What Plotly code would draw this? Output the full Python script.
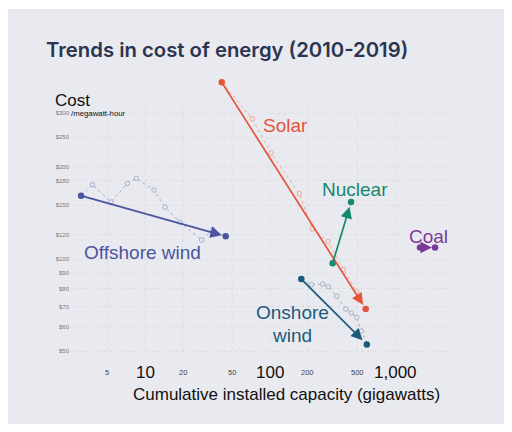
import numpy as np
import plotly.graph_objects as go

# ---------------- data ----------------
solar_gw = [41.1, 72.2, 101.9, 171.6, 218, 291, 386, 494, 583]
solar_cost = [378, 287, 222, 163.5, 125.3, 114, 92.5, 78.2, 68.6]

offshore_gw = [3.08, 3.79, 5.35, 7.22, 8.52, 11.8, 14.45, 19.05, 28.4, 34.8, 44.2]
offshore_cost = [161, 175, 153.6, 176.7, 183.5, 168, 147.9, 132, 115.3, 125, 118.6]

onshore_gw = [178, 215, 263, 293, 342, 404, 447, 494, 537, 595]
onshore_cost = [86, 82.5, 82.8, 81.2, 75.6, 68.6, 66.6, 64.4, 58.2, 52.6]

nuclear_gw = [317, 445]
nuclear_cost = [96.8, 153.5]

coal_gw = [1585, 2089]
coal_cost = [109, 109]

y_tick_vals = [50, 60, 70, 80, 90, 100, 120, 150, 180, 200, 250, 300]
y_tick_text = ["$50", "$60", "$70", "$80", "$90", "$100", "$120", "$150",
               "$180", "$200", "$250", "$300"]
x_tick_vals = [5, 10, 20, 50, 100, 200, 500, 1000]
x_tick_text = ["5", "10", "20", "50", "100", "200", "500", "1,000"]
x_tick_big = [False, True, False, False, True, False, False, True]

# ---------------- layout geometry (screen pixels) ----------------
PAGE = 8                      # body margin of the html page
W, H = 512 - 2 * PAGE, 432 - 2 * PAGE
X0, X1, Y0, Y1 = 73, 449, 75, 356   # plot area on screen
L, T = X0 - PAGE, Y0 - PAGE
R, B = W - (X1 - PAGE), H - (Y1 - PAGE)
PW, PH = X1 - X0, Y1 - Y0
BG = "#e9eaef"
GRID = "#dcdde3"
FONT = "Liberation Sans, Arial, sans-serif"

SOLAR, SOLAR_L = "#e4543c", "#f0a597"
OFF, OFF_L = "#4a55a0", "#a7abd2"
ON, ON_L = "#1b5a7b", "#a3b1c0"
NUC = "#14896f"
COAL = "#7c3b97"


def px(xp):
    return (xp - X0) / PW


def py(yp):
    return (Y1 - yp) / PH


fig = go.Figure()

# thin white strip at the top of the panel
fig.add_shape(type="rect", xref="paper", yref="paper",
              x0=px(0), x1=px(520), y0=py(9), y1=py(0),
              fillcolor="white", line=dict(width=0), layer="below")

# vertical grid lines (limited height like the reference)
for v in x_tick_vals:
    fig.add_shape(type="line", xref="x", yref="y", x0=v, x1=v,
                  y0=48, y1=322, layer="below",
                  line=dict(color=GRID, width=1, dash="dot"))


def path(xs, ys, light):
    fig.add_trace(go.Scatter(
        x=xs, y=ys, mode="lines+markers", cliponaxis=False,
        line=dict(color=light, width=1, dash="dot"),
        marker=dict(size=4.5, color=BG, line=dict(color=light, width=1)),
        hoverinfo="skip", showlegend=False))


def ends(xs, ys, dark):
    fig.add_trace(go.Scatter(
        x=[xs[0], xs[-1]], y=[ys[0], ys[-1]], mode="markers",
        cliponaxis=False, marker=dict(size=6.5, color=dark),
        hoverinfo="skip", showlegend=False))


def arrow(xs, ys, dark, standoff=4):
    fig.add_annotation(
        x=np.log10(xs[-1]), y=np.log10(ys[-1]),
        ax=np.log10(xs[0]), ay=np.log10(ys[0]),
        xref="x", yref="y", axref="x", ayref="y",
        text="", showarrow=True, arrowhead=2, arrowsize=1.35,
        arrowwidth=1.7, arrowcolor=dark, standoff=standoff)


path(solar_gw, solar_cost, SOLAR_L)
path(offshore_gw, offshore_cost, OFF_L)
path(onshore_gw, onshore_cost, ON_L)

for xs, ys, c, so in [(solar_gw, solar_cost, SOLAR, 5),
                      (offshore_gw, offshore_cost, OFF, 4),
                      (onshore_gw, onshore_cost, ON, 6),
                      (nuclear_gw, nuclear_cost, NUC, 5),
                      (coal_gw, coal_cost, COAL, 3)]:
    arrow(xs, ys, c, so)
    ends(xs, ys, c)

# series labels
labels = [("Solar", 285, 125, SOLAR), ("Nuclear", 355, 189, NUC),
          ("Offshore wind", 142, 252, OFF), ("Onshore", 292, 312, ON),
          ("wind", 292, 335, ON), ("Coal", 428, 236, COAL)]
for t, xp, yp, c in labels:
    fig.add_annotation(xref="paper", yref="paper", x=px(xp), y=py(yp),
                       text=t, showarrow=False, xanchor="center",
                       yanchor="middle", font=dict(family=FONT, size=19, color=c))

# x tick labels
for v, t, big in zip(x_tick_vals, x_tick_text, x_tick_big):
    fig.add_annotation(xref="x", yref="paper", x=np.log10(v), y=py(372),
                       text=t, showarrow=False, xanchor="center", yanchor="middle",
                       font=dict(family=FONT, size=17 if big else 7.5,
                                 color="#111" if big else "#444"))

# texts
fig.add_annotation(xref="paper", yref="paper", x=px(44), y=py(50),
                   text="Trends in cost of energy (2010-2019)",
                   showarrow=False, xanchor="left", yanchor="middle",
                   font=dict(family="Inter, sans-serif", size=20.3, color="#2b354f", weight=600))
fig.add_annotation(xref="paper", yref="paper", x=px(53), y=py(100), text="Cost",
                   showarrow=False, xanchor="left", yanchor="middle",
                   font=dict(family=FONT, size=17, color="#111"))
fig.add_annotation(xref="paper", yref="paper", x=px(69), y=py(113.5), text="/megawatt-hour",
                   showarrow=False, xanchor="left", yanchor="middle",
                   font=dict(family=FONT, size=7.8, color="#111"))
fig.add_annotation(xref="paper", yref="paper", x=px(286), y=py(395),
                   text="Cumulative installed capacity (gigawatts)",
                   showarrow=False, xanchor="center", yanchor="middle",
                   font=dict(family=FONT, size=17, color="#111"))

fig.update_layout(
    width=W, height=H, margin=dict(l=L, r=R, t=T, b=B, pad=0),
    paper_bgcolor=BG, plot_bgcolor="rgba(0,0,0,0)",
    showlegend=False,
    xaxis=dict(type="log", range=[1 + (X0 - 145) / 125, 1 + (X1 - 145) / 125],
               showgrid=False, zeroline=False, showline=False,
               showticklabels=False, ticks=""),
    yaxis=dict(type="log",
               range=[np.log10(300) - (Y1 - 113) / 306, np.log10(300) + (113 - Y0) / 306],
               tickvals=y_tick_vals, ticktext=y_tick_text,
               showgrid=True, gridcolor=GRID, griddash="dot", gridwidth=1,
               zeroline=False, showline=False, ticks="",
               ticklabelstandoff=3,
               tickfont=dict(family=FONT, size=6, color="#777")),
)

fig.write_html("out.html")
